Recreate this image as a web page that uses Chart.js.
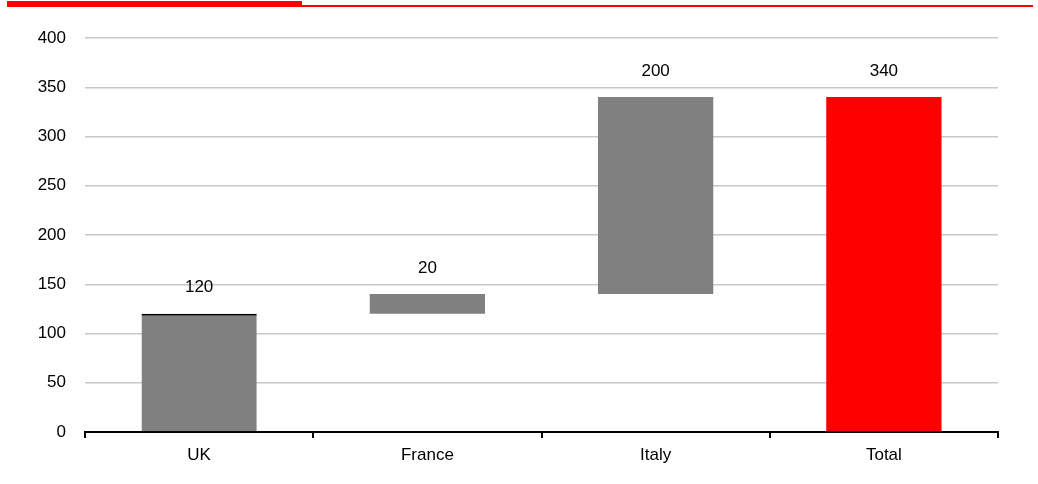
<!DOCTYPE html>
<html>
<head>
<meta charset="utf-8">
<script src="https://cdn.jsdelivr.net/npm/chart.js@4/dist/chart.umd.min.js"></script>
<style>
  html, body { margin: 0; padding: 0; background: #fff; }
  #wrap { position: relative; width: 1038px; height: 484px; }
  .rule-thick { position: absolute; left: 7px; top: 1px; width: 295px; height: 6px; background: #ff0000; }
  .rule-thin { position: absolute; left: 302px; top: 5px; width: 731px; height: 2px; background: #ff0000; }
  canvas { position: absolute; left: 0; top: 0; }
</style>
</head>
<body>
<div id="wrap">
  <div class="rule-thick"></div>
  <div class="rule-thin"></div>
  <canvas id="chart" width="1038" height="484"></canvas>
</div>
<script>
// Waterfall: each country adds to the running total, then the total bar.
const categories = ["UK", "France", "Italy", "Total"];
const changes = [120, 20, 200, 340];
const isTotal = [false, false, false, true];
const yTicks = [0, 50, 100, 150, 200, 250, 300, 350, 400];

// Build floating [start, end] ranges from the changes.
let running = 0;
const ranges = changes.map((v, i) => {
  if (isTotal[i]) return [0, v];
  const r = [running, running + v];
  running += v;
  return r;
});

const GREY = "#808080";
const RED = "#ff0000";
const FONT = "'Liberation Sans', Arial, sans-serif";
const FONT_SIZE = 17;

const valueLabels = {
  id: "valueLabels",
  afterDatasetsDraw(chart) {
    const ctx = chart.ctx;
    const meta = chart.getDatasetMeta(0);
    ctx.save();
    ctx.font = FONT_SIZE + "px " + FONT;
    ctx.fillStyle = "#000";
    ctx.textAlign = "center";
    ctx.textBaseline = "middle";
    meta.data.forEach((bar, i) => {
      const top = Math.min(bar.y, bar.base);
      ctx.fillText(String(changes[i]), bar.x, top - 26);
    });
    ctx.restore();
  }
};

new Chart(document.getElementById("chart"), {
  type: "bar",
  data: {
    labels: categories,
    datasets: [{
      data: ranges,
      backgroundColor: categories.map((c, i) => isTotal[i] ? RED : GREY),
      borderColor: "#000",
      borderWidth: categories.map((c, i) => i === 0 ? { top: 2, left: 0, right: 0, bottom: 0 } : 0),
      borderSkipped: false,
      categoryPercentage: 1,
      barPercentage: 0.505
    }]
  },
  options: {
    responsive: false,
    animation: false,
    layout: { padding: { left: 0, right: 40, top: 38, bottom: 0 } },
    plugins: { legend: { display: false }, tooltip: { enabled: false } },
    scales: {
      x: {
        grid: { display: true, offset: true, drawOnChartArea: false, color: "#000", lineWidth: 2, tickLength: 6 },
        border: { display: true, color: "#000", width: 2 },
        ticks: { color: "#000", font: { family: FONT, size: FONT_SIZE }, padding: 7 },
        afterFit(scale) { scale.height = 52; }
      },
      y: {
        min: 0,
        max: 400,
        afterBuildTicks(scale) { scale.ticks = yTicks.map(v => ({ value: v })); },
        grid: {
          drawTicks: false,
          color: (c) => c.tick && c.tick.value === 0 ? "rgba(0,0,0,0)" : "#c8c8c8",
          lineWidth: 1.5
        },
        border: { display: false },
        ticks: { color: "#000", font: { family: FONT, size: FONT_SIZE }, padding: 19 },
        afterFit(scale) { scale.width = 85; }
      }
    }
  },
  plugins: [valueLabels]
});
</script>
</body>
</html>
